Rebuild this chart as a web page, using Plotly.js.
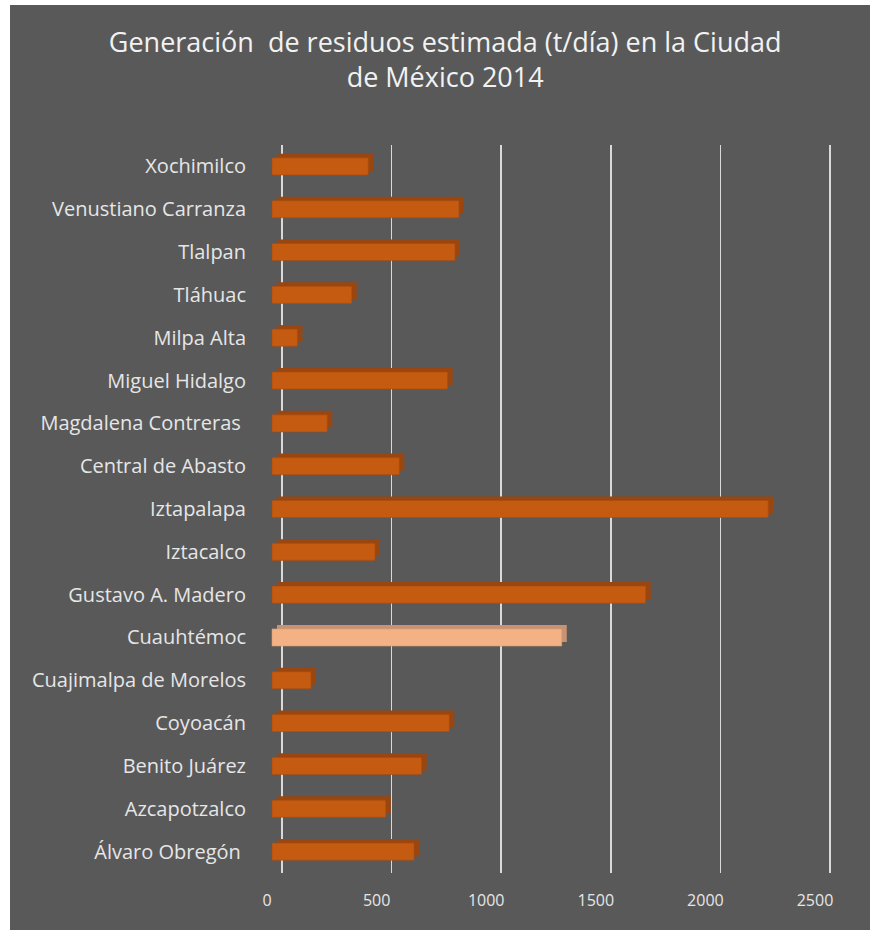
<!DOCTYPE html>
<html>
<head>
<meta charset="utf-8">
<script src="https://cdn.plot.ly/plotly-3.0.1.min.js"></script>
<style>
  html, body { margin: 0; padding: 0; background: #ffffff; width: 870px; height: 930px; overflow: hidden; }
  #chart { position: absolute; left: 10px; top: 5px; width: 860px; height: 925px; }
</style>
</head>
<body>
<div id="chart"></div>
<script>
// Data (bottom-to-top order, as in the source sheet)
const categories = [
  'Álvaro Obregón\u00a0',
  'Azcapotzalco',
  'Benito Juárez',
  'Coyoacán',
  'Cuajimalpa de Morelos',
  'Cuauhtémoc',
  'Gustavo A. Madero',
  'Iztacalco',
  'Iztapalapa',
  'Central de Abasto',
  'Magdalena Contreras\u00a0',
  'Miguel Hidalgo',
  'Milpa Alta',
  'Tláhuac',
  'Tlalpan',
  'Venustiano Carranza',
  'Xochimilco'
];
const residuos = [648, 519, 683, 809, 178, 1322, 1705, 470, 2264, 581, 252, 801, 116, 364, 835, 853, 439];
const highlighted = 'Cuauhtémoc';
const xTicks = [0, 500, 1000, 1500, 2000, 2500];
const chartTitle = 'Generación\u00a0 de residuos estimada (t/día) en la Ciudad<br>de México 2014';

// Styles
const front = '#C55A11', frontHi = '#F4B183';
const depth = '#9A4610', depthHi = '#C79373';
const frontColors = categories.map(c => c === highlighted ? frontHi : front);
const depthColors = categories.map(c => c === highlighted ? depthHi : depth);
const edgeColors = categories.map(c => c === highlighted ? '#D99A72' : '#A94C0E');

const FONT = 'Open Sans, Noto Sans, DejaVu Sans, sans-serif';
const textCol = '#E6E6E6';

// pseudo-3D geometry: plot area 570 px wide, 548 px per 2500 units
const plotW = 570;
const ppu = 548 / 2500;
const span = plotW / ppu;
const axRange = (px0) => [-px0 / ppu, -px0 / ppu + span]; // px0: pixel offset of value 0 from plot left

const traces = [
  { // depth (top + side faces) - drawn first, below
    type: 'bar', orientation: 'h',
    x: residuos, y: categories,
    xaxis: 'x', yaxis: 'y',
    width: 0.4, offset: -0.2 + 4 / 42.54,
    marker: { color: depthColors, line: { width: 0 } },
    hoverinfo: 'skip', showlegend: false
  },
  { type: 'scatter', mode: 'none', x: [xTicks[0]], y: [categories[0]], xaxis: 'x2', yaxis: 'y', showlegend: false, hoverinfo: 'skip' },
  { type: 'scatter', mode: 'none', x: [xTicks[0]], y: [categories[0]], xaxis: 'x3', yaxis: 'y', showlegend: false, hoverinfo: 'skip' },
  { // front face - on last overlay, drawn on top
    type: 'bar', orientation: 'h',
    x: residuos, y: categories,
    xaxis: 'x4', yaxis: 'y',
    width: 0.4,
    marker: { color: frontColors, line: { width: 0.6, color: edgeColors } },
    hoverinfo: 'skip', showlegend: false
  }
];

const layout = {
  width: 860, height: 925,
  margin: { l: 252, r: 38, t: 140, b: 57 },
  paper_bgcolor: '#595959',
  plot_bgcolor: 'rgba(0,0,0,0)',
  barmode: 'overlay',
  showlegend: false,
  title: {
    text: chartTitle,
    font: { family: FONT, size: 27, color: '#F2F2F2' },
    xref: 'container', x: 0.506, xanchor: 'center',
    yref: 'container', y: 0.949, yanchor: 'top'
  },
  xaxis: { // depth faces (0 at +15 px)
    range: axRange(15), showgrid: false, zeroline: false,
    showticklabels: false, showline: false, ticks: ''
  },
  xaxis2: { // back plane gridlines (0 at +20 px)
    overlaying: 'x', anchor: 'y', side: 'bottom',
    range: axRange(20),
    tickvals: xTicks, showgrid: true, gridcolor: '#D9D9D9', gridwidth: 1.6,
    zeroline: false, showticklabels: false, showline: false, ticks: ''
  },
  xaxis3: { // front plane labels (0 at +5 px)
    overlaying: 'x', anchor: 'y', side: 'bottom',
    range: axRange(5),
    tickvals: xTicks, ticktext: xTicks.map(String),
    showgrid: false, zeroline: false, showline: false, ticks: '',
    ticklabelstandoff: 16,
    tickfont: { family: FONT, size: 16, color: textCol }
  },
  xaxis4: { // bar front faces (0 at +10 px)
    overlaying: 'x', anchor: 'y', side: 'bottom',
    range: axRange(10),
    showgrid: false, zeroline: false, showticklabels: false, showline: false, ticks: ''
  },
  yaxis: {
    type: 'category', categoryorder: 'array', categoryarray: categories,
    range: [-0.5, categories.length - 0.5],
    showgrid: false, zeroline: false, showline: false, ticks: '',
    ticklabelstandoff: 15,
    tickfont: { family: FONT, size: 20, color: textCol }
  }
};

Plotly.newPlot('chart', traces, layout, { staticPlot: true, displayModeBar: false });
</script>
</body>
</html>
